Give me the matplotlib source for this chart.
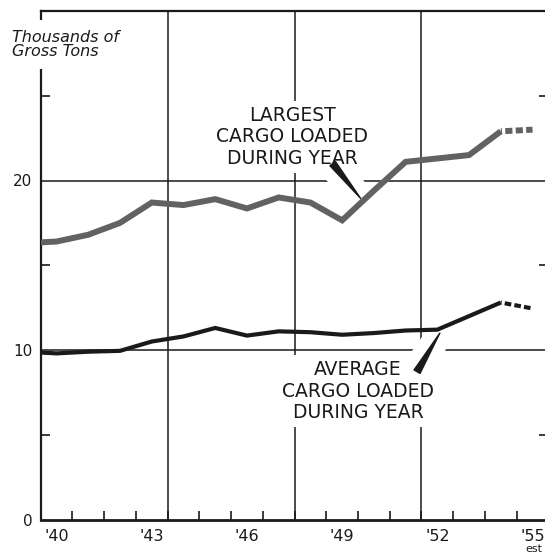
import matplotlib
matplotlib.use("Agg")
import matplotlib.pyplot as plt
import matplotlib.patheffects as pe
from matplotlib.ticker import FixedLocator, NullFormatter

# ---- data (thousands of gross tons) ----
years = [1939.5, 1940, 1941, 1942, 1943, 1944, 1945, 1946, 1947, 1948, 1949,
         1950, 1951, 1952, 1953, 1954]
largest = [16.35, 16.4, 16.8, 17.5, 18.7, 18.55, 18.9, 18.35, 19.0, 18.7, 17.65,
           19.4, 21.1, 21.3, 21.5, 22.9]
average = [9.85, 9.8, 9.9, 9.95, 10.5, 10.8, 11.3, 10.85, 11.1, 11.05, 10.9,
           11.0, 11.15, 11.2, 12.0, 12.8]
est_years = [1954, 1955]
largest_est = [22.9, 23.0]
average_est = [12.8, 12.45]

tick_years = [1940, 1943, 1946, 1949, 1952, 1955]
tick_labels = ["'40", "'43", "'46", "'49", "'52", "'55"]
year_bounds = [1940.5, 1941.5, 1942.5, 1943.5, 1944.5, 1945.5, 1946.5, 1947.5,
               1948.5, 1949.5, 1950.5, 1951.5, 1952.5, 1953.5, 1954.5]
grid_x = [1943.5, 1947.5, 1951.5]
grid_y = [10, 20]
y_labels_at = [0, 10, 20]
y_minor_at = [5, 15, 25]

W, H = 545, 555
fig = plt.figure(figsize=(W / 100, H / 100), dpi=100)
fig.patch.set_facecolor("white")
ax = fig.add_axes([40.7 / W, 1 - 519.5 / H, 507.7 / W, 508.5 / H])
ax.set_xlim(1939.5, 1955.5)
ax.set_ylim(0, 30)

# spines
for s in ["left", "top", "bottom"]:
    ax.spines[s].set_linewidth(1.6)
    ax.spines[s].set_color("#1a1a1a")
ax.spines["bottom"].set_linewidth(2.0)
ax.spines["right"].set_visible(False)

# grid
for gx in grid_x:
    ax.axvline(gx, color="#1a1a1a", lw=1.1, zorder=1)
for gy in grid_y:
    ax.axhline(gy, color="#1a1a1a", lw=1.1, zorder=1)

# ticks
ax.xaxis.set_major_locator(FixedLocator(tick_years))
ax.set_xticklabels(tick_labels)
ax.xaxis.set_minor_locator(FixedLocator(year_bounds))
ax.xaxis.set_minor_formatter(NullFormatter())
ax.tick_params(axis="x", which="major", length=0, pad=6.5, labelsize=11.5,
               labelcolor="#1a1a1a")
ax.tick_params(axis="x", which="minor", direction="in", length=6.5, width=1.2,
               color="#1a1a1a")
ax.yaxis.set_major_locator(FixedLocator(y_labels_at))
ax.set_yticklabels([str(v) for v in y_labels_at])
ax.yaxis.set_minor_locator(FixedLocator(y_minor_at))
ax.yaxis.set_minor_formatter(NullFormatter())
ax.tick_params(axis="y", which="major", length=0, pad=6, labelsize=11,
               labelcolor="#1a1a1a")
ax.tick_params(axis="y", which="minor", direction="in", length=6.5, width=1.2,
               left=True, right=True, color="#1a1a1a")

ax.text(1955.05, -0.049, "est", transform=ax.get_xaxis_transform(),
        ha="center", va="top", fontsize=8, color="#1a1a1a", clip_on=False)

# data lines
ax.plot(years, largest, color="#626262", lw=4.3, zorder=5,
        solid_joinstyle="miter", solid_capstyle="butt")
ax.plot(est_years, largest_est, color="#626262", lw=4.3, zorder=5,
        linestyle=(1.0, (1.2, 0.55)), dash_capstyle="butt")
ax.plot(years, average, color="#1a1a1a", lw=3.0, zorder=5,
        solid_joinstyle="miter", solid_capstyle="butt")
ax.plot(est_years, average_est, color="#1a1a1a", lw=3.0, zorder=5,
        linestyle=(1.4, (1.6, 0.75)), dash_capstyle="butt")

# label texts: white boxes first (break the grid), then pointers, then glyphs
label_specs = [
    (1947.43, 22.57, "LARGEST\nCARGO LOADED\nDURING YEAR"),
    (1949.5, 7.58, "AVERAGE\nCARGO LOADED\nDURING YEAR"),
]
box = dict(fc="white", ec="none", boxstyle="square,pad=0.3")
for lx, ly, txt in label_specs:
    ax.text(lx, ly, txt, ha="center", va="center", fontsize=13.5,
            linespacing=1.15, color="white", bbox=box, zorder=2.5)

halo = [pe.withStroke(linewidth=18, foreground="white")]
ax.annotate("", xy=(1949.58, 18.95), xytext=(1948.7, 21.0),
            arrowprops=dict(arrowstyle="wedge,tail_width=0.5", fc="#1a1a1a",
                            ec="#1a1a1a", shrinkA=0, shrinkB=0,
                            path_effects=halo), zorder=2.6)
ax.annotate("", xy=(1952.08, 11.0), xytext=(1951.36, 8.72),
            arrowprops=dict(arrowstyle="wedge,tail_width=0.5", fc="#1a1a1a",
                            ec="#1a1a1a", shrinkA=0, shrinkB=0,
                            path_effects=halo), zorder=2.6)

for lx, ly, txt in label_specs:
    ax.text(lx, ly, txt, ha="center", va="center", fontsize=13.5,
            linespacing=1.15, color="#1a1a1a", zorder=2.7)

fig.text(12 / W, 1 - 29.5 / H, "Thousands of\nGross Tons", ha="left", va="top",
         fontsize=11.5, style="italic", linespacing=1.0, color="#1a1a1a",
         bbox=dict(fc="white", ec="none", boxstyle="square,pad=0.6"), zorder=5)

fig.savefig("out.png", dpi=100, facecolor="white")
